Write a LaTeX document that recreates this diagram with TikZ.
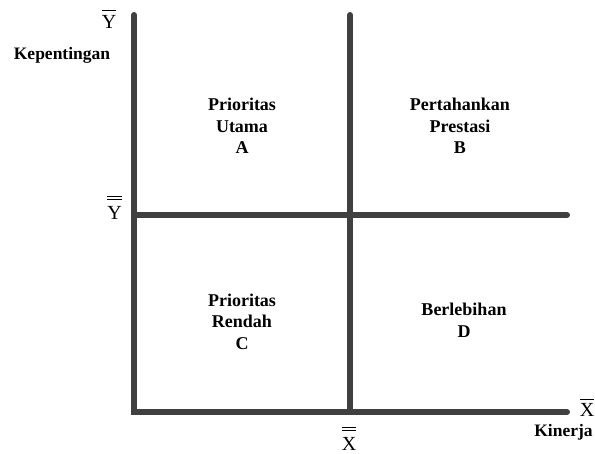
\documentclass[tikz,border=0pt]{standalone}
\usepackage{fontspec}
\setmainfont{Liberation Serif}
\definecolor{axisgray}{HTML}{404040}
\newcommand\onebar[1]{\vbox{\hrule height 1pt\kern 4pt\hbox{#1}}}
\newcommand\twobar[1]{\vbox{\hrule height 1pt\kern 2.4pt\hrule height 1pt\kern 6.5pt\hbox{#1}}}
\tikzset{
  axisline/.style={draw=axisgray, line width=6pt, line cap=round},
  quadtext/.style={font=\fontsize{18}{21.7}\selectfont\bfseries, align=center, inner sep=0pt, anchor=base},
  axistitle/.style={font=\fontsize{17.5}{21}\selectfont\bfseries, inner sep=0pt, anchor=base},
  barlabel/.style={font=\fontsize{20}{24}\selectfont, inner sep=0pt, anchor=base}
}
\begin{document}
\begin{tikzpicture}[x=1pt,y=-1pt]
\useasboundingbox (0,0) rectangle (595,454);
\coordinate (ytop) at (134,15);
\coordinate (origin) at (134,412);
\coordinate (xend) at (567,412);
\coordinate (mtop) at (350,15);
\coordinate (mbot) at (350,412);
\coordinate (hl) at (134,215);
\coordinate (hr) at (567,215);
\draw[axisline] (ytop) -- (origin) -- (xend);
\draw[axisline] (mtop) -- (mbot);
\draw[axisline] (hl) -- (hr);

\node[barlabel] (ybar) at (109,28.3) {\onebar{Y}};
\node[barlabel] (ybarbar) at (114.5,220) {\twobar{Y}};
\node[barlabel] (xbarbar) at (349,451) {\twobar{X}};
\node[barlabel] (xbar) at (587,417) {\onebar{X}};
\node[axistitle] (kep) at (62,60) {Kepentingan};
\node[axistitle] (kin) at (563.5,437) {Kinerja};

\node[quadtext] (qa) at (242,154) {Prioritas\\Utama\\A};
\node[quadtext] (qb) at (460,154) {Pertahankan\\Prestasi\\B};
\node[quadtext] (qc) at (242,349.5) {Prioritas\\Rendah\\C};
\node[quadtext] (qd) at (464,337.5) {Berlebihan\\D};
\end{tikzpicture}
\end{document}
